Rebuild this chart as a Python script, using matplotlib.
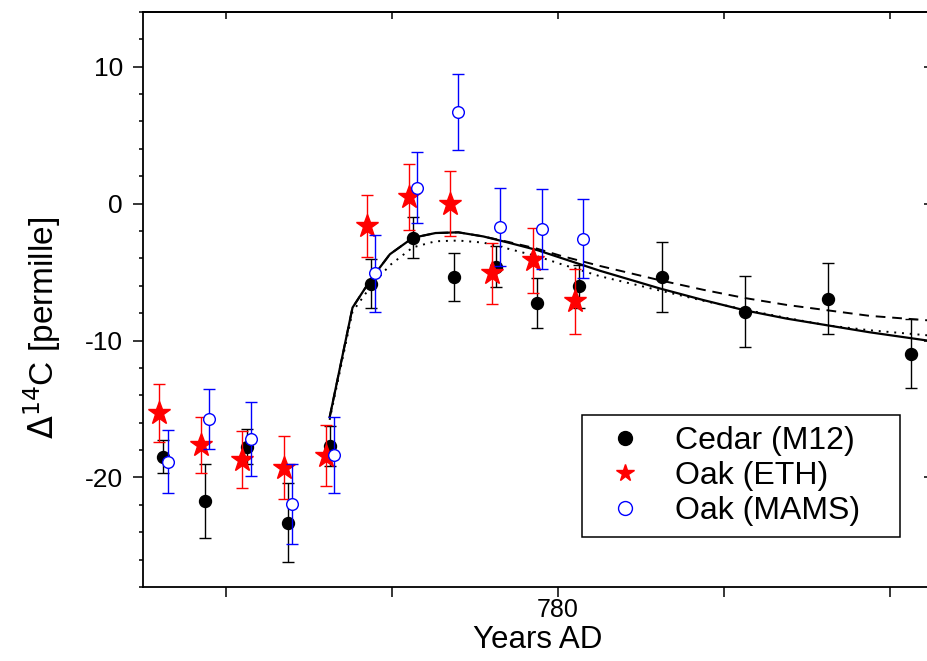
#!/usr/bin/env python3

import matplotlib
matplotlib.use('Agg')
import matplotlib.pyplot as plt
from matplotlib.lines import Line2D


# Cedar (M12) tree ring data, plotted at mid-year
CEDAR_X = [770.5, 771.5, 772.5, 773.5, 774.5, 775.5, 776.5, 777.5, 778.5,
           779.5, 780.5, 782.5, 784.5, 786.5, 788.5]
CEDAR_Y = [-18.5, -21.7, -17.75, -23.3, -17.7, -5.85, -2.5, -5.35, -4.6,
           -7.25, -6.05, -5.35, -7.9, -6.95, -10.95]
CEDAR_ERR = [1.2, 2.7, 1.3, 2.9, 1.45, 1.8, 1.5, 1.75, 1.5,
             1.8, 1.55, 2.55, 2.6, 2.6, 2.55]

# Oak (ETH)
ETH_X = [770.4, 771.4, 772.4, 773.4, 774.4, 775.4, 776.4, 777.4, 778.4,
         779.4, 780.4]
ETH_Y = [-15.3, -17.6, -18.7, -19.3, -18.4, -1.65, 0.5, 0.0, -5.1,
         -4.15, -7.15]
ETH_ERR = [2.1, 2.05, 2.1, 2.3, 2.25, 2.25, 2.4, 2.4, 2.2, 2.35, 2.35]

# Oak (MAMS)
MAMS_X = [770.6, 771.6, 772.6, 773.6, 774.6, 775.6, 776.6, 777.6, 778.6,
          779.6, 780.6]
MAMS_Y = [-18.85, -15.75, -17.2, -21.95, -18.35, -5.1, 1.15, 6.7, -1.7,
          -1.85, -2.55]
MAMS_ERR = [2.3, 2.2, 2.7, 2.9, 2.8, 2.8, 2.6, 2.8, 2.85, 2.9, 2.85]

# model curves
MODEL_X = [774.5, 775.05, 775.5, 775.95, 776.5, 777.05, 777.6, 778.2, 778.8,
           779.5, 780.05, 781.0, 782.45, 783.5, 784.5, 785.5, 786.5, 787.5,
           789.0]
SOLID_Y = [-15.6, -7.6, -5.5, -3.7, -2.5, -2.15, -2.1, -2.4, -2.85,
           -3.4, -3.95, -4.9, -6.2, -7.05, -7.8, -8.4, -8.9, -9.4, -10.05]
DASHED_Y = [-15.6, -7.6, -5.5, -3.7, -2.5, -2.15, -2.1, -2.4, -2.8,
            -3.3, -3.8, -4.55, -5.6, -6.3, -6.9, -7.4, -7.8, -8.2, -8.55]
DOTTED_Y = [-15.8, -7.9, -6.0, -4.5, -3.2, -2.75, -2.7, -2.85, -3.3,
            -3.85, -4.4, -5.3, -6.35, -7.1, -7.75, -8.35, -8.9, -9.25, -9.65]

XTICKS = [772, 776, 780, 784, 788]
XTICK_LABELS = ['', '', '780', '', '']
YTICKS = [-20, -10, 0, 10]

plt.rcParams['font.family'] = ['Liberation Sans', 'DejaVu Sans']
plt.rcParams['axes.unicode_minus'] = False

fig = plt.figure(figsize=(9.28, 6.61), dpi=100)
ax = fig.add_axes([0.1538, 0.112, 0.8505, 0.870])

# model curves underneath the data
ax.plot(MODEL_X, SOLID_Y, color='black', lw=1.6, zorder=2)
ax.plot(MODEL_X, DASHED_Y, color='black', lw=1.4, ls=(0, (5, 3.5)), zorder=2)
ax.plot(MODEL_X, DOTTED_Y, color='black', lw=1.4, ls=(0, (1, 3)), zorder=2)

ax.errorbar(CEDAR_X, CEDAR_Y, yerr=CEDAR_ERR, fmt='o', color='black',
            ms=8.6, elinewidth=1, capsize=4.5, capthick=1, zorder=3)
ax.errorbar(ETH_X, ETH_Y, yerr=ETH_ERR, fmt='*', color='red',
            ms=17, elinewidth=1, capsize=4.5, capthick=1, zorder=4)
ax.errorbar(MAMS_X, MAMS_Y, yerr=MAMS_ERR, fmt='o', color='blue', mfc='white',
            mec='blue', mew=1, ms=8.4, elinewidth=1, capsize=4.5, capthick=1,
            zorder=5)

ax.set_xlim(770, 789)
ax.set_ylim(-28, 14)

# tick lengths in points (0.72 pt per pixel at 100 dpi)
ax.set_xticks(XTICKS)
ax.set_xticklabels(XTICK_LABELS)
ax.set_yticks(YTICKS)
ax.set_yticks(range(-28, 15, 2), minor=True)
ax.tick_params(axis='x', which='major', direction='out', length=7.2, width=1.1,
               labelsize=18, pad=0.5, top=False)
ax.tick_params(axis='x', which='minor', bottom=False, top=False)
ax.tick_params(axis='y', which='major', direction='out', length=7.2, width=1.1,
               labelsize=19, pad=7, right=False)
ax.tick_params(axis='y', which='minor', direction='out', length=2.9, width=1.1,
               right=False)

# mirrored axes with inward ticks
top = ax.secondary_xaxis('top')
top.set_xticks(XTICKS)
top.set_xticklabels([])
top.tick_params(direction='in', length=5, width=1.1)
right = ax.secondary_yaxis('right')
right.set_yticks(YTICKS)
right.set_yticks(range(-28, 15, 2), minor=True)
right.set_yticklabels([])
right.tick_params(which='major', direction='in', length=5.8, width=1.1)
right.tick_params(which='minor', direction='in', length=2.9, width=1.1)

for s in ax.spines.values():
    s.set_linewidth(1.3)
top.spines['top'].set_linewidth(1.3)
right.spines['right'].set_linewidth(1.3)

ax.set_xlabel('Years AD', fontsize=22.5)
ax.xaxis.set_label_coords(0.5, -0.0668)
ax.set_ylabel(r'$\Delta^{14}$C [permille]', fontsize=24)
ax.yaxis.set_label_coords(-0.101, 0.45)

handles = [
    Line2D([], [], ls='none', marker='o', color='black', ms=10),
    Line2D([], [], ls='none', marker='*', color='red', ms=13),
    Line2D([], [], ls='none', marker='o', mfc='white', mec='blue', mew=1, ms=10),
]
leg = ax.legend(handles, ['Cedar (M12)', 'Oak (ETH)', 'Oak (MAMS)'],
                loc='lower left', bbox_to_anchor=(0.557, 0.087, 0.402, 0.216),
                mode='expand', fontsize=23, frameon=True, fancybox=False,
                framealpha=1, edgecolor='black', borderpad=0.35,
                handlelength=2, handletextpad=0.55, labelspacing=0.15,
                borderaxespad=0)
leg.get_frame().set_linewidth(1.1)

fig.savefig('out.png', dpi=100)
